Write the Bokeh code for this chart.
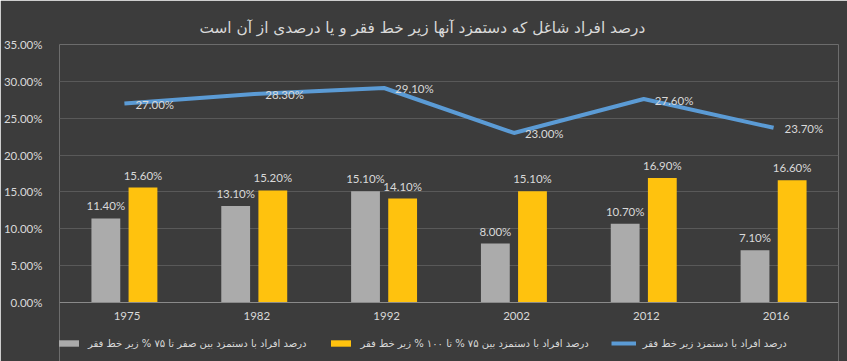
from bokeh.plotting import figure
from bokeh.models import ColumnDataSource, FactorRange, LabelSet, Legend, LegendItem, NumeralTickFormatter, Title, Span
from bokeh.core.properties import value
from bokeh.transform import dodge
from bokeh.embed import file_html
from bokeh.resources import INLINE

years = ["1975", "1982", "1992", "2002", "2012", "2016"]
grey_vals = [11.4, 13.1, 15.1, 8.0, 10.7, 7.1]
yellow_vals = [15.6, 15.2, 14.1, 15.1, 16.9, 16.6]
line_vals = [27.0, 28.3, 29.1, 23.0, 27.6, 23.7]

title_text = "درصد افراد شاغل که دستمزد آنها زیر خط فقر و یا درصدی از آن است"
grey_name = "درصد افراد با دستمزد بین صفر تا ۷۵ % زیر خط فقر"
yellow_name = "درصد افراد با دستمزد بین ۷۵ % تا ۱۰۰ % زیر خط فقر"
line_name = "درصد افراد با دستمزد زیر خط فقر"

BG = "#3c3c3c"
TXT = "#d9d9d9"
NUMFONT = "Lato"
FAFONT = "DejaVu Sans"

src = ColumnDataSource(dict(
    x=years, g=[v / 100 for v in grey_vals], y=[v / 100 for v in yellow_vals],
    l=[v / 100 for v in line_vals], zero=[0] * len(years),
    gl=[f"{v:.2f}%" for v in grey_vals],
    yl=[f"{v:.2f}%" for v in yellow_vals],
    ll=[f"{v:.2f}%" for v in line_vals],
))

DATA_H = 258      # px between 0% and 35%
BELOW_H = 59      # px under the 0% line (year labels + legend)
y_top = 0.35
y_bottom = -y_top * BELOW_H / DATA_H

p = figure(frame_width=779, frame_height=DATA_H + BELOW_H,
           x_range=FactorRange(*years, range_padding=0),
           y_range=(y_bottom, y_top), output_backend="svg", toolbar_location=None,
           background_fill_color=BG, border_fill_color=BG, outline_line_color=None,
           min_border_left=53, min_border_right=15, min_border_top=44, min_border_bottom=0)

p.add_layout(Title(text=title_text, align="left", offset=140, standoff=16, text_color=TXT,
                   text_font=FAFONT, text_font_size="15.3px", text_font_style="normal"),
             "above")

p.ygrid.ticker = [0.05, 0.10, 0.15, 0.20, 0.25, 0.30, 0.35]
p.xgrid.grid_line_color = None
p.ygrid.grid_line_color = "#595959"
p.ygrid.grid_line_width = 1
p.add_layout(Span(location=0, dimension="width", line_color="#8a8a8a", line_width=1))

gb = p.vbar(x=dodge("x", -0.143, range=p.x_range), top="g", width=0.222, source=src,
            fill_color="#ababab", line_color=None)
yb = p.vbar(x=dodge("x", 0.143, range=p.x_range), top="y", width=0.222, source=src,
            fill_color="#ffc20e", line_color=None)
ln = p.line(x="x", y="l", source=src, line_color="#5b9bd5", line_width=4)

for xo, col in [(-0.143, "g"), (0.143, "y")]:
    lbl = "gl" if col == "g" else "yl"
    p.add_layout(LabelSet(x=dodge("x", xo, range=p.x_range), y=col, text=lbl, source=src,
                          text_align="center", text_baseline="bottom", y_offset=6,
                          text_color=TXT, text_font=value(NUMFONT), text_font_size="11.5px"))
p.add_layout(LabelSet(x="x", y="l", text="ll", source=src, text_align="left",
                      text_baseline="middle", x_offset=11, y_offset=-1,
                      text_color=TXT, text_font=value(NUMFONT), text_font_size="11.5px"))
# category (year) labels under the 0% line
p.add_layout(LabelSet(x=dodge("x", 0.02, range=p.x_range), y="zero", text="x", source=src,
                      text_align="center", text_baseline="top", y_offset=-9,
                      text_color=TXT, text_font=value(NUMFONT), text_font_size="11.5px"))

p.xaxis.visible = False
p.yaxis.formatter = NumeralTickFormatter(format="0.00%")
p.yaxis.ticker = [0, 0.05, 0.10, 0.15, 0.20, 0.25, 0.30, 0.35]
p.yaxis.axis_line_color = None
p.yaxis.major_tick_line_color = None
p.yaxis.minor_tick_line_color = None
p.yaxis.major_label_text_color = TXT
p.yaxis.major_label_text_font = NUMFONT
p.yaxis.major_label_text_font_size = "11.5px"
p.yaxis.major_label_standoff = 11

legend = Legend(items=[LegendItem(label=grey_name, renderers=[gb]),
                       LegendItem(label=yellow_name, renderers=[yb]),
                       LegendItem(label=line_name, renderers=[ln])],
                orientation="horizontal", location=(-3, 12),
                background_fill_alpha=0, border_line_color=None,
                label_text_color=TXT, label_text_font=FAFONT, label_text_font_size="10px",
                label_height=12, glyph_width=25, glyph_height=8, spacing=22,
                padding=0, margin=0, label_standoff=7)
p.add_layout(legend, "center")

open("out.html", "w").write(file_html(p, INLINE))
